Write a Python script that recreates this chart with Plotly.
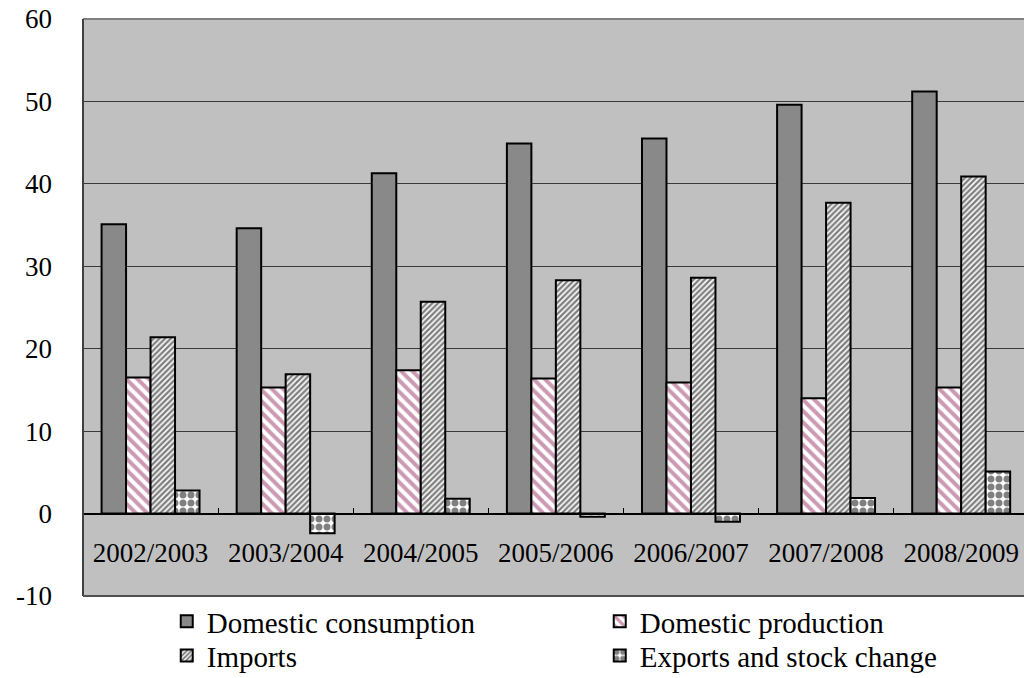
import plotly.graph_objects as go

# Marketing years on the category axis
years = ["2002/2003", "2003/2004", "2004/2005", "2005/2006",
         "2006/2007", "2007/2008", "2008/2009"]

# Series values (million tonnes)
consumption = [35.1, 34.6, 41.3, 44.9, 45.5, 49.6, 51.2]
production = [16.5, 15.3, 17.4, 16.4, 15.9, 14.0, 15.3]
imports = [21.4, 16.9, 25.7, 28.3, 28.6, 37.7, 40.9]
exports_stock = [2.8, -2.4, 1.8, -0.4, -1.0, 1.9, 5.1]

y_ticks = [-10, 0, 10, 20, 30, 40, 50, 60]
y_tick_text = ["-10", "0", "10", "20", "30", "40", "50", "60"]

FONT = "Liberation Serif"

# name, values, fill pattern, legend row
series = [
    ("Domestic consumption", consumption,
     dict(shape=".", size=2, solidity=0.5, fgcolor="#000000", bgcolor="#b0b0b0"), "legend"),
    ("Domestic production", production,
     dict(shape="\\", size=8, solidity=0.5, fgcolor="#993366", bgcolor="#ffffff"), "legend"),
    ("Imports", imports,
     dict(shape="/", size=4, solidity=0.6, fgcolor="#000000", bgcolor="#ffffff"), "legend2"),
    ("Exports and stock change", exports_stock,
     dict(shape=".", size=8, solidity=0.6, fgcolor="#000000", bgcolor="#ffffff"), "legend2"),
]

fig = go.Figure()
for name, vals, pat, leg in series:
    fig.add_trace(go.Bar(
        x=years, y=vals, name=name, legend=leg,
        marker=dict(color=pat["bgcolor"], pattern=pat,
                    line=dict(color="#000000", width=2)),
    ))

y_min, y_max = y_ticks[0], y_ticks[-1]

legend_common = dict(
    orientation="h",
    x=0.089, xanchor="left",
    yanchor="top",
    entrywidth=388,
    itemwidth=30,
    font=dict(family=FONT, size=29, color="#000000"),
    bgcolor="rgba(0,0,0,0)",
)

fig.update_layout(
    width=1024, height=678,
    margin=dict(l=83, r=0, t=19, b=82, autoexpand=False),
    paper_bgcolor="#ffffff",
    plot_bgcolor="#c0c0c0",
    barmode="group",
    bargap=0.275,
    bargroupgap=0,
    font=dict(family=FONT, size=28, color="#000000"),
    showlegend=True,
    legend=dict(legend_common, y=0.0),
    legend2=dict(legend_common, y=-0.059),
    xaxis=dict(
        type="category",
        range=[-0.5, 6.465],
        anchor="free",
        position=(0 - y_min) / (y_max - y_min),
        showline=True, linecolor="#000000", linewidth=1.5,
        ticks="inside", ticklen=5, tickcolor="#000000", tickwidth=1,
        tickson="boundaries",
        showgrid=False, zeroline=False,
        automargin=False,
        ticklabelstandoff=15,
        tickfont=dict(family=FONT, size=27, color="#000000"),
    ),
    yaxis=dict(
        range=[y_min, y_max],
        tickvals=y_ticks,
        ticktext=y_tick_text,
        showgrid=True, gridcolor="#3a3a3a", gridwidth=1,
        zeroline=False,
        showline=False,
        automargin=False,
        ticks="", ticklabelstandoff=30,
        tickfont=dict(family=FONT, size=27, color="#000000"),
    ),
    shapes=[
        # plot-area frame
        dict(type="line", xref="paper", yref="paper", x0=0, x1=1.05, y0=1, y1=1,
             line=dict(color="#808080", width=2), layer="above"),
        dict(type="line", xref="paper", yref="paper", x0=0, x1=0, y0=0, y1=1,
             line=dict(color="#404040", width=2), layer="above"),
        dict(type="line", xref="paper", yref="paper", x0=0, x1=1.05, y0=0, y1=0,
             line=dict(color="#505050", width=2), layer="above"),
    ],
)

fig.write_html("out.html")
